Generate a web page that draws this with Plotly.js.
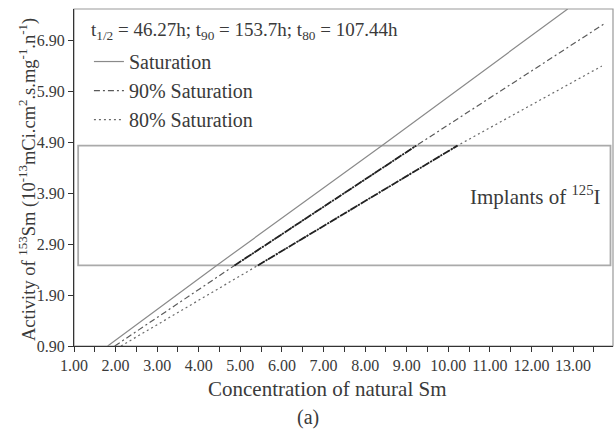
<!DOCTYPE html>
<html>
<head>
<meta charset="utf-8">
<script src="https://cdn.plot.ly/plotly-3.0.1.min.js"></script>
<style>html,body{margin:0;padding:0;background:#fff;}#chart{width:615px;height:431px;}</style>
</head>
<body>
<div id="chart"></div>
<script>
// Read-off values (concentration of natural Sm vs activity of 153Sm)
const satX = [1.81, 4.43, 8.40, 12.87];
const satY = [0.90, 2.48, 4.83, 7.51];
const s90X = [1.98, 4.86, 9.23, 13.75];
const s90Y = [0.90, 2.48, 4.83, 7.22];
const s80X = [2.13, 5.42, 10.22, 13.69];
const s80Y = [0.90, 2.48, 4.83, 6.39];
// implant window (activity range of 125I implants)
const implantX = [1.10, 13.90];
const implantY = [2.48, 4.83];
const xTickVals = [1,2,3,4,5,6,7,8,9,10,11,12,13];
const xTickText = ["1.00","2.00","3.00","4.00","5.00","6.00","7.00","8.00","9.00","10.00","11.00","12.00","13.00"];
const yTickVals = [0.9,1.9,2.9,3.9,4.9,5.9,6.9];
const yTickText = ["0.90","1.90","2.90","3.90","4.90","5.90","6.90"];
const seriesNames = ["Saturation","90% Saturation","80% Saturation"];
const infoText = "t<sub>1/2</sub> = 46.27h; t<sub>90</sub> = 153.7h; t<sub>80</sub> = 107.44h";

const FONT = "'Liberation Serif', serif";
const TXT = "#3a3a3a";

const traces = [
  {x: satX, y: satY, mode: "lines", name: seriesNames[0],
   line: {color: "#8a8a8a", width: 1.2}},
  {x: s90X, y: s90Y, mode: "lines", name: seriesNames[1],
   line: {color: "#5a5a5a", width: 1.2, dash: "6px,3px,2px,3px"}},
  {x: s80X, y: s80Y, mode: "lines", name: seriesNames[2],
   line: {color: "#6a6a6a", width: 1.2, dash: "2px,3px"}},
  // highlighted portions inside implant window
  {x: s90X.slice(1,3), y: s90Y.slice(1,3), mode: "lines", showlegend: false, hoverinfo: "skip",
   line: {color: "#222", width: 1.8, dash: "8px,1px,2px,1px"}},
  {x: s80X.slice(1,3), y: s80Y.slice(1,3), mode: "lines", showlegend: false, hoverinfo: "skip",
   line: {color: "#222", width: 1.8, dash: "8px,1px,2px,1px"}}
];

const layout = {
  width: 615, height: 431,
  margin: {l: 74, r: 2, t: 9, b: 85},
  paper_bgcolor: "#fff", plot_bgcolor: "#fff",
  font: {family: FONT, color: TXT, size: 16},
  showlegend: true,
  legend: {x: 0.0277, y: 0.902, xanchor: "left", yanchor: "top",
           bgcolor: "rgba(0,0,0,0)", font: {family: FONT, size: 20, color: TXT},
           itemwidth: 30, tracegroupgap: 0},
  xaxis: {range: [1, 13.96], tickmode: "array", tickvals: xTickVals, ticktext: xTickText,
          ticks: "outside", ticklen: 5, tickcolor: "#333", showline: true, linecolor: "#333",
          linewidth: 1, showgrid: false, zeroline: false,
          tickfont: {family: FONT, size: 16, color: TXT},
          minor: {dtick: 0.5, tick0: 1, ticks: "outside", ticklen: 5, tickcolor: "#333", showgrid: false}},
  yaxis: {range: [0.9, 7.51], tickmode: "array", tickvals: yTickVals, ticktext: yTickText,
          ticks: "outside", ticklen: 5, tickcolor: "#333", showline: true, linecolor: "#333",
          linewidth: 1, showgrid: false, zeroline: false,
          tickfont: {family: FONT, size: 16, color: TXT}},
  shapes: [
    {type: "rect", xref: "paper", yref: "paper", x0: 0, x1: 1, y0: 0, y1: 1,
     line: {color: "#999", width: 1.2}, layer: "below"},
    {type: "rect", xref: "x", yref: "y", x0: implantX[0], x1: implantX[1], y0: implantY[0], y1: implantY[1],
     line: {color: "#aaa", width: 1.8}, layer: "below"}
  ],
  annotations: [
    {text: infoText, xref: "paper", yref: "paper", x: 0.028, y: 0.935, xanchor: "left", yanchor: "middle",
     showarrow: false, font: {family: FONT, size: 19, color: TXT}},
    {text: "Implants of <sup>125</sup>I", xref: "x", yref: "y", x: 13.73, y: 3.86, xanchor: "right", yanchor: "middle",
     showarrow: false, font: {family: FONT, size: 21, color: TXT}},
    {text: "Concentration of natural Sm", xref: "paper", yref: "paper", x: (327-74)/539, y: -(389-346)/337,
     xanchor: "center", yanchor: "middle", showarrow: false, font: {family: FONT, size: 21, color: TXT}},
    {text: "(a)", xref: "paper", yref: "paper", x: (308-74)/539, y: -(417-346)/337,
     xanchor: "center", yanchor: "middle", showarrow: false, font: {family: FONT, size: 20, color: TXT}},
    {text: "Activity of <sup>153</sup>Sm (10<sup>-13</sup>mCi.cm<sup>2</sup>.s.mg<sup>-1</sup>.n<sup>-1</sup>)",
     xref: "paper", yref: "paper", x: -(74-27)/539, y: 1-(180-9)/337, xanchor: "center", yanchor: "middle",
     textangle: -90, showarrow: false, font: {family: FONT, size: 18.5, color: TXT}}
  ]
};

Plotly.newPlot("chart", traces, layout, {displayModeBar: false});
</script>
</body>
</html>
